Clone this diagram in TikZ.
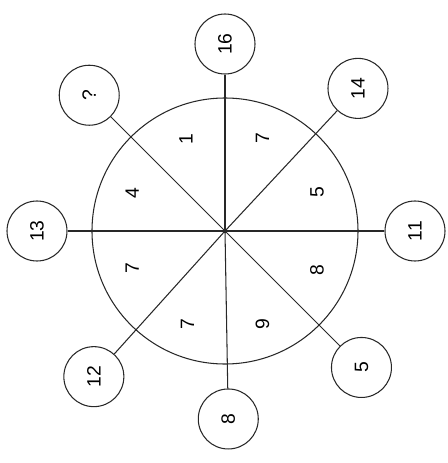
\documentclass[tikz,border=0pt]{standalone}
\usepackage{fontspec}
\setmainfont{Liberation Sans}
\usetikzlibrary{positioning, calc}
\definecolor{inkgray}{RGB}{40, 40, 40}

\begin{document}
\begin{tikzpicture}[scale=1.0,
    ring/.style={draw=inkgray, line width=0.6pt, circle, minimum size=1.2cm,
                 inner sep=0pt, fill=white, font=\fontsize{11}{12}\selectfont, rotate=90},
    spoke/.style={inkgray, line width=0.6pt},
    cell/.style={font=\fontsize{11}{12}\selectfont, rotate=90}]
    \useasboundingbox (-4.5,-4.64) rectangle (4.44,4.62);
    \coordinate (O) at (0,0);
    \draw[inkgray, line width=0.6pt] (O) circle (2.66);
    % outer numbers
    \foreach \ang/\rad/\val/\nm in {90/3.74/16/top, 47/3.9/14/tr, 0/3.8/11/rt, -45/3.86/5/br,
                                    -89/3.76/8/bot, -132/3.92/12/bl, 180/3.76/13/lt, 135/3.84/?/tl}
    {
        \node[ring] (\nm) at (\ang:\rad) {\val};
        \draw[spoke] (O) -- (\nm);
    }
    % numbers in the sectors
    \foreach \ang/\val in {113/1, 68/7, 23/5, -23/8, -68/9, -112/7, -158/7, 158/4}
        \node[cell] at (\ang:2.0) {\val};
    \fill[inkgray] (O) circle (1.3pt);
\end{tikzpicture}
\end{document}
